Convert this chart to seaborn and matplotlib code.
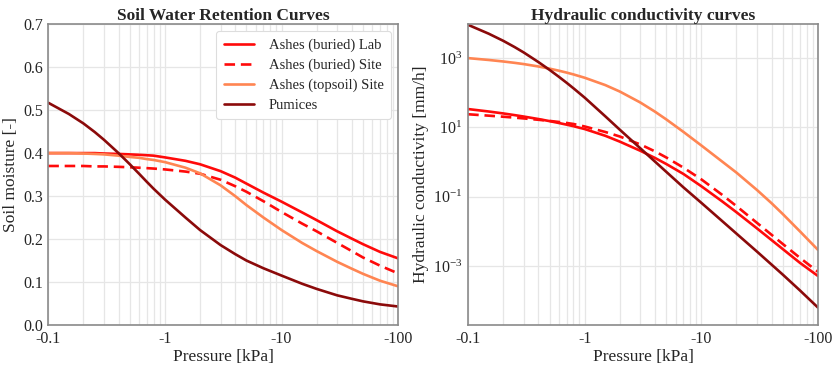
import numpy as np
import pandas as pd
import matplotlib
matplotlib.use("Agg")
import matplotlib.pyplot as plt
import seaborn as sns
from matplotlib.ticker import FixedLocator, FixedFormatter, LogLocator, NullFormatter

# Suction values [kPa] (shown as negative pressures on the axis)
pressure = [0.1, 0.15, 0.2, 0.25, 0.3, 0.4, 0.5, 0.6, 0.7, 0.8, 1, 1.5, 2, 3, 4, 5,
            7, 10, 15, 20, 30, 40, 50, 70, 100]

series_names = ["Ashes (buried) Lab", "Ashes (buried) Site",
                "Ashes (topsoil) Site", "Pumices"]

# Volumetric soil moisture [-]
theta_buried_lab = [0.400, 0.400, 0.400, 0.400, 0.399, 0.398, 0.397, 0.396, 0.395,
                    0.394, 0.390, 0.382, 0.374, 0.358, 0.343, 0.329, 0.308, 0.287,
                    0.262, 0.244, 0.218, 0.201, 0.188, 0.170, 0.155]
theta_buried_site = [0.370, 0.370, 0.370, 0.369, 0.369, 0.368, 0.367, 0.366, 0.365,
                     0.364, 0.362, 0.357, 0.352, 0.338, 0.323, 0.310, 0.288, 0.263,
                     0.236, 0.218, 0.191, 0.172, 0.157, 0.138, 0.120]
theta_topsoil_site = [0.400, 0.400, 0.399, 0.398, 0.397, 0.394, 0.391, 0.389, 0.386,
                      0.384, 0.379, 0.366, 0.353, 0.325, 0.300, 0.279, 0.250, 0.221,
                      0.191, 0.172, 0.147, 0.131, 0.119, 0.103, 0.090]
theta_pumices = [0.517, 0.491, 0.469, 0.449, 0.431, 0.400, 0.374, 0.352, 0.333,
                 0.317, 0.292, 0.250, 0.221, 0.186, 0.165, 0.150, 0.132, 0.115,
                 0.096, 0.084, 0.069, 0.061, 0.055, 0.048, 0.043]

# Hydraulic conductivity, log10 of [mm/h]
logk_buried_lab = [1.530, 1.460, 1.404, 1.356, 1.314, 1.243, 1.182, 1.128, 1.080,
                   1.036, 0.953, 0.759, 0.590, 0.326, 0.120, -0.055, -0.340, -0.697,
                   -1.128, -1.447, -1.913, -2.250, -2.512, -2.906, -3.286]
logk_buried_site = [1.380, 1.340, 1.309, 1.283, 1.260, 1.221, 1.188, 1.158, 1.129,
                    1.100, 1.027, 0.869, 0.738, 0.509, 0.309, 0.134, -0.158, -0.499,
                    -0.939, -1.270, -1.754, -2.098, -2.365, -2.762, -3.165]
logk_topsoil_site = [3.000, 2.947, 2.903, 2.864, 2.828, 2.759, 2.696, 2.637, 2.582,
                     2.530, 2.433, 2.222, 2.035, 1.718, 1.455, 1.232, 0.874, 0.479,
                     0.021, -0.304, -0.806, -1.187, -1.502, -1.998, -2.533]
logk_pumices = [3.960, 3.705, 3.499, 3.320, 3.162, 2.887, 2.659, 2.461, 2.287,
                2.130, 1.858, 1.321, 0.933, 0.396, 0.015, -0.281, -0.726, -1.176,
                -1.695, -2.064, -2.583, -2.958, -3.249, -3.702, -4.198]

x_ticks = [0.1, 1, 10, 100]
x_tick_labels = ["-0.1", "-1", "-10", "-100"]
k_ticks = [1e-3, 1e-1, 1e1, 1e3]

colors = ["#ff0a0a", "#ff0a0a", "#ff8552", "#8b0a0a"]
line_dashes = ["", (4, 2.2), "", ""]

rows = []
for name, th, lk in zip(series_names,
                        [theta_buried_lab, theta_buried_site, theta_topsoil_site, theta_pumices],
                        [logk_buried_lab, logk_buried_site, logk_topsoil_site, logk_pumices]):
    for p, t, k in zip(pressure, th, lk):
        rows.append({"pressure": p, "theta": t, "K": 10.0 ** k, "soil": name})
df = pd.DataFrame(rows)

sns.set_style("white")
plt.rcParams["font.family"] = ["Liberation Serif", "DejaVu Serif"]
plt.rcParams["mathtext.fontset"] = "stix"

fig = plt.figure(figsize=(8.33, 3.66), dpi=100)
ax1 = fig.add_axes([0.058, 0.112, 0.420, 0.822])
ax2 = fig.add_axes([0.562, 0.112, 0.420, 0.822])

palette = dict(zip(series_names, colors))
dash_map = dict(zip(series_names, line_dashes))

for ax, col in [(ax1, "theta"), (ax2, "K")]:
    sns.lineplot(data=df, x="pressure", y=col, hue="soil", style="soil",
                 palette=palette, dashes=dash_map, hue_order=series_names,
                 style_order=series_names, linewidth=1.9, ax=ax,
                 legend=(ax is ax1), estimator=None, sort=True)
    ax.set_xscale("log")
    ax.set_xlim(0.1, 100)
    ax.xaxis.set_major_locator(FixedLocator(x_ticks))
    ax.xaxis.set_major_formatter(FixedFormatter(x_tick_labels))
    ax.xaxis.set_minor_locator(LogLocator(base=10, subs=np.arange(2, 10)))
    ax.xaxis.set_minor_formatter(NullFormatter())
    ax.grid(True, which="major", color="#e6e6e6", linewidth=0.9)
    ax.grid(True, which="minor", axis="x", color="#e6e6e6", linewidth=0.9)
    ax.set_axisbelow(True)
    ax.set_xlabel("Pressure [kPa]", fontsize=12.5, labelpad=2)
    ax.tick_params(axis="both", which="major", labelsize=11.5, length=3,
                   color="#888888", pad=1)
    ax.tick_params(axis="x", which="minor", length=2, color="#888888")
    for s in ax.spines.values():
        s.set_color("#8a8a8a")
        s.set_linewidth(1.2)

ax1.set_ylim(0, 0.7)
ax1.set_yticks(np.arange(0, 0.71, 0.1))
ax1.set_yticklabels([f"{v:.1f}" for v in np.arange(0, 0.71, 0.1)])
ax1.set_ylabel("Soil moisture [-]", fontsize=12.5, labelpad=3)
ax1.set_title("Soil Water Retention Curves", fontsize=12.5, fontweight="bold", pad=3)

ax2.set_yscale("log")
ax2.set_ylim(10 ** -4.7, 10 ** 3.98)
ax2.yaxis.set_major_locator(FixedLocator(k_ticks))
ax2.yaxis.set_minor_locator(FixedLocator([]))
ax2.set_ylabel("Hydraulic conductivity [mm/h]", fontsize=12.5, labelpad=3)
ax2.set_title("Hydraulic conductivity curves", fontsize=12.5, fontweight="bold", pad=3)

leg = ax1.legend(loc="upper right", fontsize=10.5, frameon=True, framealpha=1,
                 edgecolor="#dddddd", handlelength=2.1, borderpad=0.5,
                 labelspacing=0.45, handletextpad=1.0)
leg.get_frame().set_linewidth(0.8)

fig.savefig("out.png", dpi=100)
